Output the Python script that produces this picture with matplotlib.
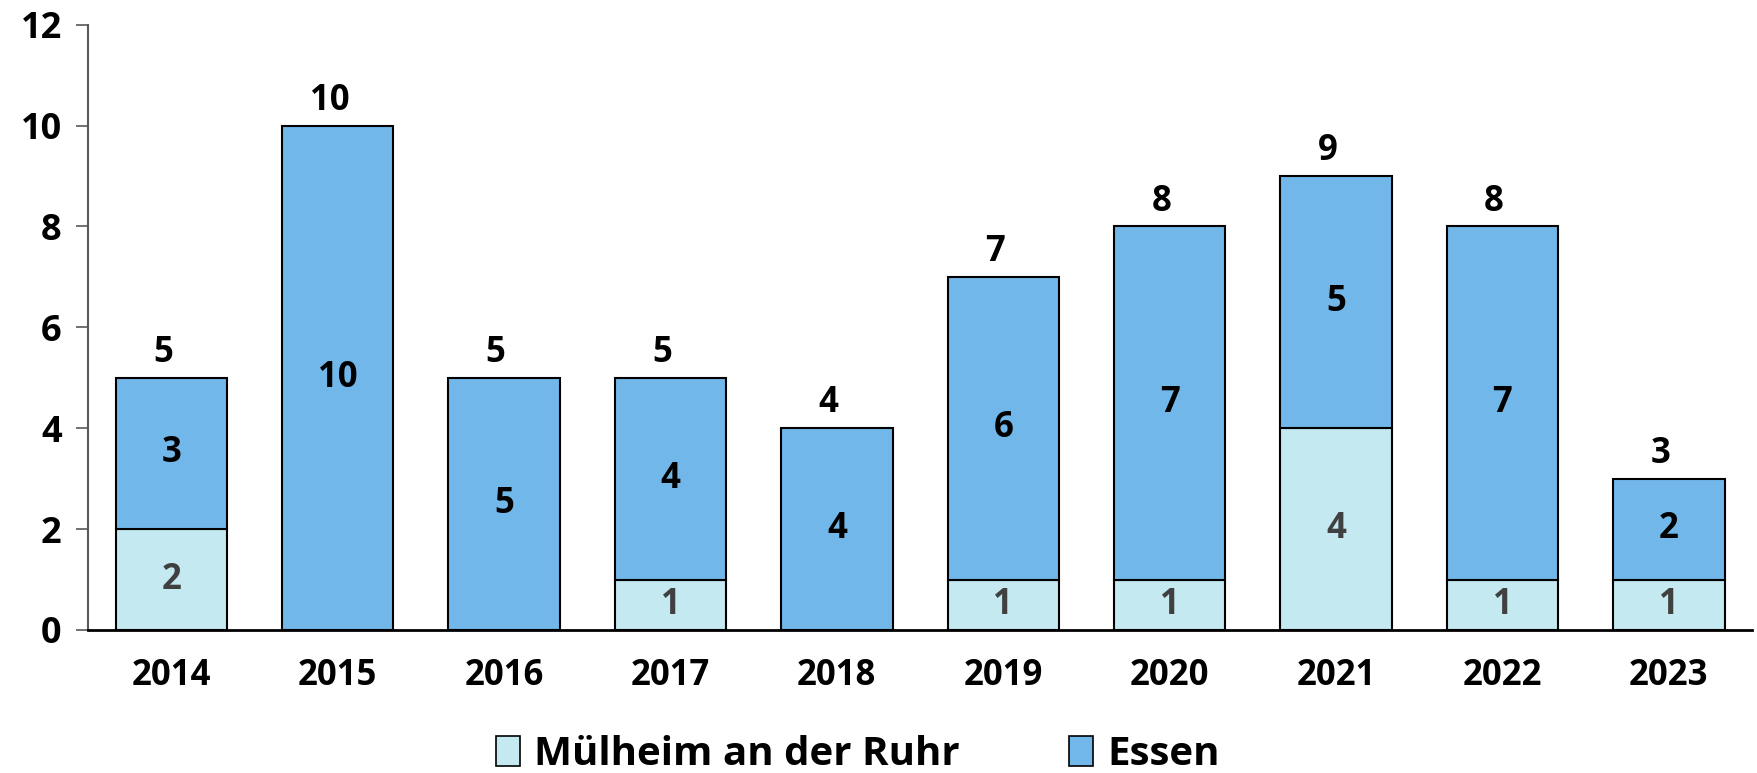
import matplotlib.pyplot as plt
from matplotlib.patches import Patch

years = ['2014', '2015', '2016', '2017', '2018', '2019', '2020', '2021', '2022', '2023']
muelheim = [2, 0, 0, 1, 0, 1, 1, 4, 1, 1]
essen = [3, 10, 5, 4, 4, 6, 7, 5, 7, 2]

c_mh = '#C4E9F1'
c_es = '#71B7E9'

plt.rcParams['font.family'] = ['Open Sans', 'DejaVu Sans']
plt.rcParams['font.weight'] = 'bold'

fig = plt.figure(figsize=(17.58, 7.73), dpi=100)
ax = fig.add_axes([0.0501, 0.185, 0.9465, 0.783])

x = list(range(len(years)))
b1 = ax.bar(x, muelheim, 0.67, color=c_mh, edgecolor='black', linewidth=1.5)
b2 = ax.bar(x, essen, 0.67, bottom=muelheim, color=c_es, edgecolor='black', linewidth=1.5)

# Werte in den Segmenten
for i in x:
    if muelheim[i]:
        ax.text(i, muelheim[i] / 2, str(muelheim[i]), ha='center', va='center',
                fontsize=25, fontweight='bold', color='#404040')
    if essen[i]:
        ax.text(i, muelheim[i] + essen[i] / 2, str(essen[i]), ha='center', va='center',
                fontsize=25, fontweight='bold', color='black')
    total = muelheim[i] + essen[i]
    ax.annotate(str(total), xy=(i - 0.05, total), xytext=(0, 5), textcoords='offset points',
                ha='center', va='bottom', fontsize=25, fontweight='bold', color='black')

ax.set_xlim(-0.5, len(years) - 0.5)
ax.set_ylim(0, 12)
ax.set_yticks(range(0, 13, 2))
ax.set_xticks(x)
ax.set_xticklabels(years)

ax.spines['top'].set_visible(False)
ax.spines['right'].set_visible(False)
ax.spines['left'].set_color('#595959')
ax.spines['left'].set_linewidth(1.5)
ax.spines['bottom'].set_color('black')
ax.spines['bottom'].set_linewidth(2)

ax.tick_params(axis='y', length=9, width=1.2, color='#595959', labelsize=26, pad=10)
ax.tick_params(axis='x', length=0, labelsize=25, pad=20)
for lbl in ax.get_xticklabels() + ax.get_yticklabels():
    lbl.set_fontweight('bold')

handles = [Patch(facecolor=c_mh, edgecolor='black', linewidth=1.2, label='Mülheim an der Ruhr'),
           Patch(facecolor=c_es, edgecolor='black', linewidth=1.2, label='Essen')]
fig.legend(handles=handles, loc='center', bbox_to_anchor=(0.488, 0.024), ncol=2, frameon=False,
           prop={'size': 29, 'weight': 'bold'}, handlelength=0.6, handleheight=0.75,
           handletextpad=0.35, columnspacing=2.7)

fig.savefig('out.png', dpi=100)
